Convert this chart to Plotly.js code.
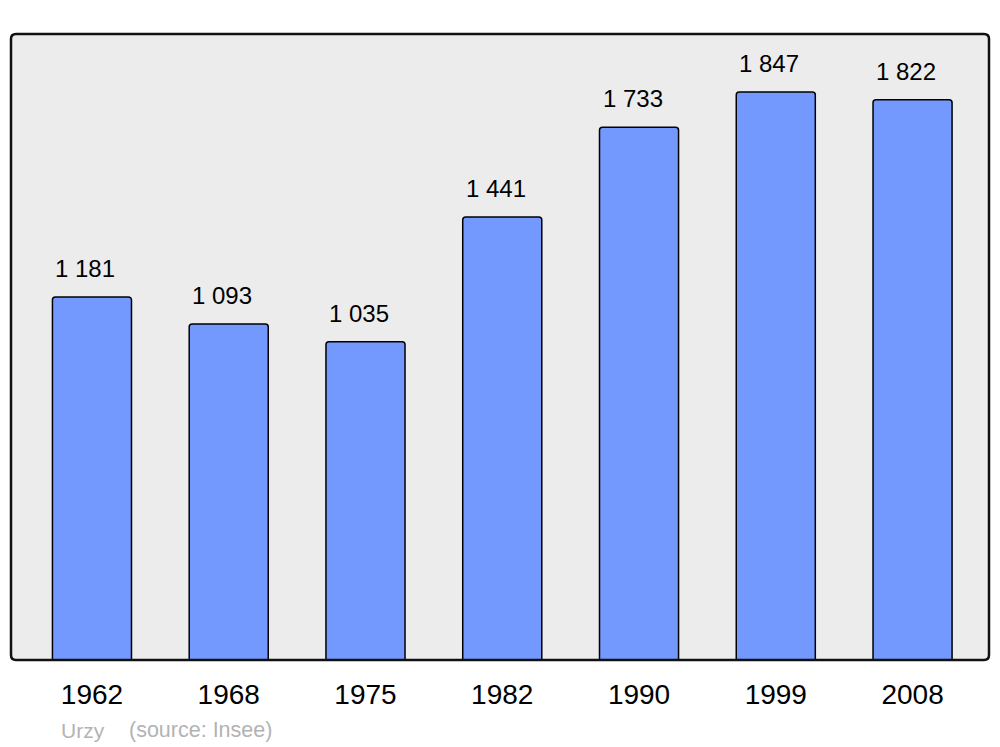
<!DOCTYPE html>
<html>
<head>
<meta charset="utf-8">
<script src="https://cdn.plot.ly/plotly-3.0.1.min.js"></script>
<style>html,body{margin:0;padding:0;background:#fff;}#chart{width:1000px;height:747px;}</style>
</head>
<body>
<div id="chart"></div>
<script>
const years = ["1962", "1968", "1975", "1982", "1990", "1999", "2008"];
const population = [1181, 1093, 1035, 1441, 1733, 1847, 1822];
const commune = "Urzy";
const source = "(source: Insee)";

function fmt(v) {
  const s = String(v);
  return s.length > 3 ? s.slice(0, s.length - 3) + " " + s.slice(-3) : s;
}

const W = 978, H = 626, r = 5;
const rx = r / W, ry = r / H;
const borderPath =
  `M ${rx} 0 L ${1 - rx} 0 Q 1 0 1 ${ry} L 1 ${1 - ry} Q 1 1 ${1 - rx} 1 ` +
  `L ${rx} 1 Q 0 1 0 ${1 - ry} L 0 ${ry} Q 0 0 ${rx} 0 Z`;

const trace = {
  type: "bar",
  x: years,
  y: population,
  width: 0.578,
  marker: { color: "#7399ff", line: { color: "#000", width: 1.5 }, cornerradius: 3 },
  hoverinfo: "none"
};

const annotations = years.map((yr, i) => ({
  x: i, y: population[i], xref: "x", yref: "y",
  text: fmt(population[i]), showarrow: false,
  yanchor: "bottom", yshift: 13, xshift: -6.5,
  font: { family: "Liberation Sans, Arial, sans-serif", size: 24, color: "#000" }
}));
annotations.push({
  xref: "paper", yref: "paper", x: (59 - 11) / W, y: -(730 - 660) / H,
  xanchor: "left", yanchor: "middle", showarrow: false, text: commune,
  font: { family: "Liberation Sans, Arial, sans-serif", size: 21, color: "#b3b3b3" }
});
annotations.push({
  xref: "paper", yref: "paper", x: (127 - 11) / W, y: -(730 - 660) / H,
  xanchor: "left", yanchor: "middle", showarrow: false, text: source,
  font: { family: "Liberation Sans, Arial, sans-serif", size: 21.5, color: "#b3b3b3" }
});

const layout = {
  width: 1000, height: 747,
  margin: { l: 11, r: 11, t: 34, b: 87, pad: 0 },
  paper_bgcolor: "#fff",
  plot_bgcolor: "#ececec",
  showlegend: false,
  xaxis: {
    type: "category", range: [-0.592, 6.559], showgrid: false, zeroline: false,
    showline: false, ticks: "", fixedrange: true, ticklabelstandoff: 15,
    tickfont: { family: "Liberation Sans, Arial, sans-serif", size: 28, color: "#000" }
  },
  yaxis: {
    range: [0, 2036], showgrid: false, zeroline: false, showline: false,
    showticklabels: false, ticks: "", fixedrange: true
  },
  shapes: [{
    type: "path", xref: "paper", yref: "paper", path: borderPath,
    line: { color: "#111", width: 2.5 }, fillcolor: "rgba(0,0,0,0)", layer: "above"
  }],
  annotations: annotations
};

Plotly.newPlot("chart", [trace], layout, { displayModeBar: false, staticPlot: true });
</script>
</body>
</html>
